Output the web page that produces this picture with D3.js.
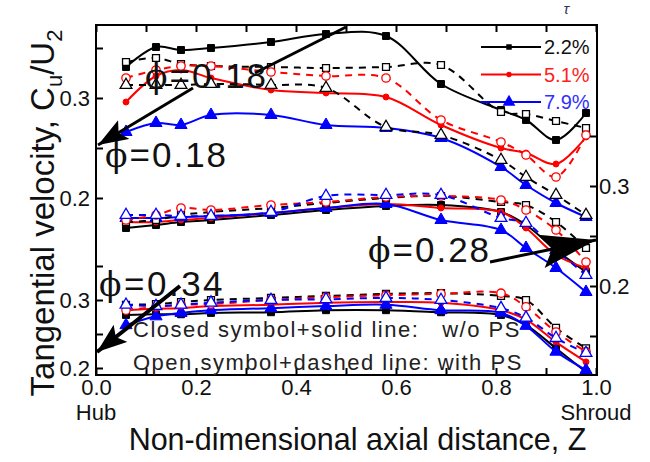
<!DOCTYPE html>
<html>
<head>
<meta charset="utf-8">
<script src="https://cdn.jsdelivr.net/npm/d3@7"></script>
<style>
  body { margin: 0; background: #fff; }
  text { font-family: "Liberation Sans", Arial, sans-serif; }
</style>
</head>
<body>
<div id="chart"></div>
<script>
// axial measuring stations
const zPos = [0.06, 0.12, 0.17, 0.23, 0.35, 0.46, 0.58, 0.69, 0.81, 0.86, 0.92, 0.98];
const tipGaps = ["2.2%", "5.1%", "7.9%"];
const xTicks = [0, 0.1, 0.2, 0.3, 0.4, 0.5, 0.6, 0.7, 0.8, 0.9, 1.0];
const yTicks = [0.35, 0.3, 0.25, 0.2, 0.15];
const yLabelled = [0.3, 0.2];

// phi = 0.18 (upper group, left axis)  rows: 2.2%, 5.1%, 7.9%
const phi018Solid = [
  [0.331, 0.351, 0.348, 0.350, 0.356, 0.364, 0.362, 0.314, 0.288, 0.278, 0.258, 0.285],
  [0.296, 0.322, 0.328, 0.320, 0.308, 0.305, 0.301, 0.273, 0.250, 0.245, 0.234, 0.261],
  [0.266, 0.275, 0.273, 0.283, 0.283, 0.273, 0.270, 0.260, 0.231, 0.213, 0.195, 0.181]
];
const phi018Dashed = [
  [0.336, 0.340, 0.334, 0.332, 0.331, 0.330, 0.331, 0.333, 0.286, 0.284, 0.277, 0.270],
  [0.320, 0.328, 0.332, 0.332, 0.326, 0.322, 0.320, 0.278, 0.256, 0.243, 0.221, 0.263],
  [0.313, 0.313, 0.313, 0.314, 0.313, 0.310, 0.271, 0.263, 0.238, 0.221, 0.203, 0.183]
];
// phi = 0.28 (middle group, right axis)
const phi028Solid = [
  [0.258, 0.261, 0.264, 0.266, 0.271, 0.276, 0.280, 0.281, 0.274, 0.261, 0.236, 0.214],
  [0.264, 0.264, 0.266, 0.268, 0.273, 0.278, 0.282, 0.278, 0.274, 0.258, 0.231, 0.218],
  [0.268, 0.268, 0.269, 0.270, 0.273, 0.278, 0.282, 0.266, 0.256, 0.238, 0.218, 0.194]
];
const phi028Dashed = [
  [0.264, 0.266, 0.271, 0.274, 0.278, 0.283, 0.288, 0.290, 0.284, 0.281, 0.264, 0.238],
  [0.266, 0.271, 0.278, 0.276, 0.281, 0.284, 0.289, 0.290, 0.286, 0.276, 0.256, 0.224],
  [0.271, 0.271, 0.270, 0.270, 0.274, 0.290, 0.291, 0.291, 0.268, 0.263, 0.236, 0.211]
];
// phi = 0.34 (lower group, left axis)
const phi034Solid = [
  [0.278, 0.279, 0.279, 0.281, 0.282, 0.285, 0.285, 0.282, 0.278, 0.263, 0.229, 0.194],
  [0.285, 0.287, 0.288, 0.291, 0.293, 0.296, 0.297, 0.296, 0.285, 0.271, 0.238, 0.209],
  [0.263, 0.276, 0.281, 0.285, 0.288, 0.291, 0.293, 0.285, 0.281, 0.262, 0.224, 0.197]
];
const phi034Dashed = [
  [0.293, 0.294, 0.297, 0.300, 0.303, 0.306, 0.309, 0.310, 0.306, 0.300, 0.259, 0.229],
  [0.285, 0.290, 0.293, 0.294, 0.300, 0.304, 0.307, 0.309, 0.310, 0.290, 0.253, 0.224],
  [0.293, 0.291, 0.293, 0.296, 0.300, 0.301, 0.303, 0.300, 0.288, 0.274, 0.244, 0.222]
];

const width = 650, height = 462;
const margin = { top: 25, right: 53, bottom: 87, left: 96 };
const plotW = width - margin.left - margin.right;
const plotH = height - margin.top - margin.bottom;

const colors = ["#000000", "#ff0000", "#0000ff"];
const symbols = [d3.symbolSquare, d3.symbolCircle, d3.symbolTriangle];

const x = d3.scaleLinear().domain([0, 1]).range([0, plotW - 1]);
const yTop = d3.scaleLinear().domain([0.2, 0.3]).range([173, 73]);
const yMid = d3.scaleLinear().domain([0.2, 0.3]).range([261, 161]);
const yBot = d3.scaleLinear().domain([0.2, 0.3]).range([343, 275]);

const groups = [
  { solid: phi018Solid, dashed: phi018Dashed, y: yTop, dashedColors: ["#000000", "#ff0000", "#000000"] },
  { solid: phi028Solid, dashed: phi028Dashed, y: yMid, dashedColors: colors },
  { solid: phi034Solid, dashed: phi034Dashed, y: yBot, dashedColors: colors }
];

const svg = d3.select("#chart").append("svg")
  .attr("width", width).attr("height", height);

const defs = svg.append("defs");
defs.append("clipPath").attr("id", "plotClip")
  .append("rect").attr("width", plotW).attr("height", plotH);

// 箭头
function addArrow(id, len, wid) {
  defs.append("marker").attr("id", id)
    .attr("viewBox", `0 0 ${len} ${wid}`)
    .attr("refX", len).attr("refY", wid / 2)
    .attr("markerWidth", len).attr("markerHeight", wid)
    .attr("markerUnits", "userSpaceOnUse")
    .attr("orient", "auto")
    .append("path").attr("d", `M0,0L${len},${wid / 2}L0,${wid}L${len * 0.2},${wid / 2}Z`).attr("fill", "#000");
}
addArrow("headSmall", 30, 22);
addArrow("headBig", 56, 34);

const g = svg.append("g").attr("transform", `translate(${margin.left},${margin.top})`);
const plot = g.append("g").attr("clip-path", "url(#plotClip)");

function drawSeries(values, yScale, color, dashed, symIdx) {
  const pts = zPos.map((z, i) => [x(z), yScale(values[i])]);
  plot.append("path")
    .attr("d", d3.line().curve(d3.curveCatmullRom.alpha(0.5))(pts))
    .attr("fill", "none")
    .attr("stroke", color)
    .attr("stroke-width", 2)
    .attr("stroke-dasharray", dashed ? "7,6" : null);
  const sizes = dashed ? [48, 55, 60] : [48, 28, 64];
  plot.selectAll(null).data(pts).enter().append("path")
    .attr("transform", d => `translate(${d[0]},${d[1]})`)
    .attr("d", d3.symbol().type(symbols[symIdx]).size(sizes[symIdx]))
    .attr("fill", dashed ? "#fff" : color)
    .attr("stroke", color)
    .attr("stroke-width", dashed ? 1.3 : 1);
}

groups.forEach(gr => {
  gr.solid.forEach((vals, i) => drawSeries(vals, gr.y, colors[i], false, i));
  gr.dashed.forEach((vals, i) => drawSeries(vals, gr.y, gr.dashedColors[i], true, i));
});

// 坐标轴
const fmt = d3.format(".1f");
g.append("g").attr("transform", `translate(0,${plotH})`)
  .call(d3.axisBottom(x).tickValues(xTicks).tickSize(-7).tickPadding(4)
    .tickFormat(d => (Math.round(d * 10) % 2 === 0 ? fmt(d) : "")));
g.append("g").call(d3.axisTop(x).tickValues(xTicks).tickSize(-7).tickFormat(""));

g.append("g").call(d3.axisLeft(yTop).tickValues(yTicks.slice(0, 4)).tickSize(-7).tickPadding(6)
  .tickFormat(d => (yLabelled.includes(d) ? fmt(d) : "")));
g.append("g").call(d3.axisLeft(yBot).tickValues(yTicks.slice(0, 4)).tickSize(-7).tickPadding(6)
  .tickFormat(d => (yLabelled.includes(d) ? fmt(d) : "")));
g.append("g").attr("transform", `translate(${plotW},0)`)
  .call(d3.axisRight(yMid).tickValues(yTicks).tickSize(-7).tickPadding(2)
    .tickFormat(d => (yLabelled.includes(d) ? fmt(d) : "")));

g.selectAll(".domain").remove();
g.selectAll(".tick line").attr("stroke", "#000").attr("stroke-width", 2);
g.selectAll(".tick text").attr("font-size", 22).attr("fill", "#111")
  .attr("font-family", '"Liberation Sans", Arial, sans-serif');

g.append("rect").attr("width", plotW).attr("height", plotH)
  .attr("fill", "none").attr("stroke", "#000").attr("stroke-width", 2);

// Hub / Shroud
g.append("text").attr("x", x(0)).attr("y", plotH + 45).attr("text-anchor", "middle")
  .attr("font-size", 22).attr("fill", "#111").text("Hub");
g.append("text").attr("x", x(1)).attr("y", plotH + 45).attr("text-anchor", "middle")
  .attr("font-size", 22).attr("fill", "#111").text("Shroud");

// axis titles
g.append("text").attr("x", plotW / 2 + 11).attr("y", plotH + 75).attr("text-anchor", "middle")
  .attr("font-size", 30.5).attr("fill", "#111").text("Non-dimensional axial distance, Z");

const yTitle = svg.append("text")
  .attr("transform", "translate(54,213) rotate(-90)")
  .attr("text-anchor", "middle").attr("font-size", 33).attr("fill", "#111");
yTitle.append("tspan").text("Tangential velocity, C");
yTitle.append("tspan").attr("font-size", 22).attr("dy", 8).text("u");
yTitle.append("tspan").attr("dy", -8).text("/U");
yTitle.append("tspan").attr("font-size", 22).attr("dy", 8).text("2");

// 图例
const legend = g.append("g").attr("transform", `translate(${x(0.77)},22)`);
tipGaps.forEach((t, i) => {
  const row = legend.append("g").attr("transform", `translate(0,${i * 27.5})`);
  row.append("line").attr("x1", 0).attr("x2", 60).attr("stroke", colors[i]).attr("stroke-width", 2);
  row.append("path").attr("transform", "translate(28,0)")
    .attr("d", d3.symbol().type(symbols[i]).size([30, 22, 70][i])).attr("fill", colors[i]);
  row.append("text").attr("x", 63).attr("y", 7).attr("font-size", 20)
    .attr("fill", ["#111", "#ff2020", "#3030ff"][i]).text(t);
});
g.append("text").attr("x", x(0.935)).attr("y", -11).attr("font-size", 15)
  .attr("font-style", "italic").attr("fill", "#335").text("τ");

// phi annotations
function annotate(z, yScale, v, label, spacing) {
  const t = g.append("text").attr("x", x(z)).attr("y", yScale(v))
    .attr("font-size", 35).attr("fill", "#111").attr("letter-spacing", spacing);
  t.append("tspan").attr("font-family", '"DejaVu Serif", serif').attr("font-size", 33).text("ϕ");
  t.append("tspan").text(label);
}
function arrow(z0, v0, z1, v1, yScale, head, w) {
  g.append("line")
    .attr("x1", x(z0)).attr("y1", yScale(v0))
    .attr("x2", x(z1)).attr("y2", yScale(v1))
    .attr("stroke", "#000").attr("stroke-width", w)
    .attr("marker-end", head ? `url(#${head})` : null);
}

arrow(0.318, 0.325, 0.5, 0.371, yTop, null, 3);
annotate(0.098, yTop, 0.31, "=0.18", 2);
arrow(0.194, 0.31, 0.004, 0.253, yTop, "headSmall", 3);
annotate(0.018, yTop, 0.231, "=0.18", 2);

arrow(0.788, 0.224, 1.0, 0.246, yMid, "headBig", 3);
annotate(0.544, yMid, 0.224, "=0.28", 2);

arrow(0.168, 0.3206, 0.002, 0.2235, yBot, "headSmall", 4);
annotate(0.006, yBot, 0.306, "=0.34", 2.5);

// notes
const note = g.append("g").attr("font-size", 22).attr("fill", "#222").attr("letter-spacing", 1.5);
note.append("text").attr("xml:space", "preserve").attr("x", x(0.074)).attr("y", 312)
  .text("Closed symbol+solid line:   w/o PS");
note.append("text").attr("xml:space", "preserve").attr("x", x(0.074)).attr("y", 345)
  .text("Open symbol+dashed line: with PS");
</script>
</body>
</html>
